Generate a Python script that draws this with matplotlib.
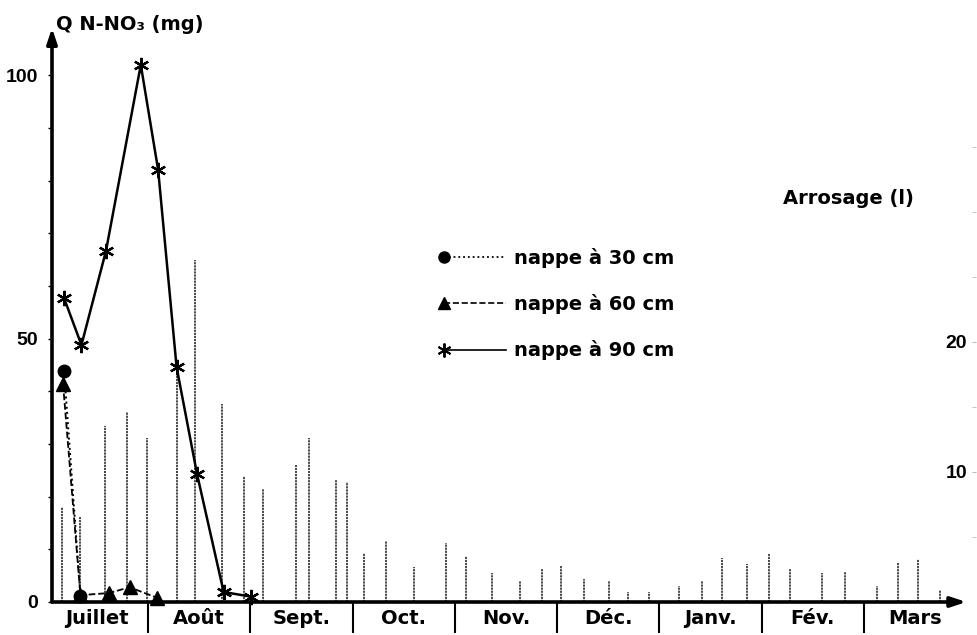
import matplotlib.pyplot as plt
from matplotlib.legend_handler import HandlerLine2D
from matplotlib.lines import Line2D

plt.rcParams['font.family'] = ['DejaVu Sans']
plt.rcParams['font.weight'] = 'bold'

months = ['Juillet', 'Août', 'Sept.', 'Oct.', 'Nov.', 'Déc.', 'Janv.', 'Fév.', 'Mars']

# x = months since 1st of July
x30 = [0.18, 0.34]
y30 = [43.9, 1.1]
x60 = [0.17, 0.34, 0.62, 0.82, 1.09]
y60 = [41.4, 1.3, 1.7, 2.8, 0.8]
x90 = [0.18, 0.35, 0.59, 0.93, 1.10, 1.28, 1.48, 1.74, 2.01]
y90 = [57.7, 48.8, 66.7, 102.0, 82.0, 44.6, 24.3, 1.9, 1.0]

# irrigation (litres)
x_arr = [0.16, 0.335, 0.58, 0.795, 0.99, 1.28, 1.46, 1.72, 1.94, 2.12, 2.45, 2.57,
         2.84, 2.95, 3.11, 3.33, 3.60, 3.91, 4.11, 4.36, 4.64, 4.85, 5.04, 5.26,
         5.51, 5.69, 5.90, 6.19, 6.42, 6.61, 6.86, 7.07, 7.28, 7.59, 7.81, 8.13,
         8.33, 8.53, 8.74]
h_arr = [7.3, 6.5, 13.5, 14.6, 12.6, 17.7, 26.3, 15.2, 9.7, 8.7, 10.5, 12.6,
         9.4, 9.2, 3.8, 4.7, 2.7, 4.5, 3.5, 2.2, 1.6, 2.5, 2.8, 1.8,
         1.6, 0.8, 0.8, 1.2, 1.6, 3.4, 2.9, 3.7, 2.5, 2.2, 2.3, 1.2,
         3.0, 3.3, 0.9]

num_font = ['Liberation Sans Narrow', 'Liberation Sans', 'DejaVu Sans']


class MarkerAtStart(HandlerLine2D):
    # put the legend marker at the left end of the sample line
    def create_artists(self, *args, **kwargs):
        artists = super().create_artists(*args, **kwargs)
        artists[0].set_markevery([0])
        return artists


fig = plt.figure(figsize=(9.77, 6.35), dpi=100)
ax = fig.add_axes([52 / 977, 33 / 635, (976 - 52) / 977, (602 - 28) / 635])
ax.set_xlim(0.062, 9.095)
ax.set_ylim(0, 109)

ax2 = ax.twinx()
ax2.set_ylim(0, 44.15)
ax.set_zorder(ax2.get_zorder() + 1)
ax.patch.set_visible(False)

for a in (ax, ax2):
    for s in a.spines.values():
        s.set_visible(False)

# irrigation bars
ax2.vlines(x_arr, 0, h_arr, colors='#3a3a3a', linestyles=(0, (1.2, 0.5)), lw=1.3)

# series
ax.plot(x30, y30, color='black', ls=':', lw=1.4, marker='o', ms=9, clip_on=False)
ax.plot(x60, y60, color='black', ls='--', lw=1.3, marker='^', ms=10, clip_on=False)
ax.plot(x90, y90, color='black', ls='-', lw=1.8, marker=(6, 2, 0), ms=11,
        mew=1.6, clip_on=False)

# axes arrows
arrow = dict(arrowstyle='-|>,head_length=0.9,head_width=0.3', lw=2.6, color='black',
             shrinkA=0, shrinkB=0)
ax.annotate('', xy=(0.062, 109), xytext=(0.062, 0), arrowprops=arrow, annotation_clip=False)
ax.annotate('', xy=(9.0, 0), xytext=(0.062, 0), arrowprops=arrow, annotation_clip=False)

# left ticks
yt = list(range(0, 101, 10))
ax.set_yticks(yt)
ax.set_yticklabels([str(v) if v % 50 == 0 else '' for v in yt], family=num_font)
ax.tick_params(axis='y', direction='out', length=3, width=1, pad=7, labelsize=14)

# month boundaries and labels
ax.set_xticks(range(1, 9))
ax.set_xticklabels([])
ax.tick_params(axis='x', which='major', direction='out', length=22, width=1.5)
ax.set_xticks([m + 0.5 for m in range(9)], minor=True)
ax.set_xticklabels(months, minor=True)
ax.tick_params(axis='x', which='minor', length=0, pad=5, labelsize=14)

# right axis
ax2.set_yticks([10, 20])
ax2.set_yticklabels(['10', '20'], family=num_font)
ax2.set_yticks([5, 15, 25, 30, 35], minor=True)
ax2.tick_params(axis='y', which='both', direction='in', length=3, color='#bbbbbb',
                pad=-22, labelsize=14)

fig.text(56 / 977, 1 - 25 / 635, 'Q N-NO₃ (mg)', ha='left', va='center', fontsize=14)
fig.text(848 / 977, 1 - 198 / 635, 'Arrosage (l)', ha='center', va='center', fontsize=14)

handles = [
    Line2D([], [], color='black', ls=':', lw=1.3, marker='o', ms=8),
    Line2D([], [], color='black', ls='--', lw=1.2, marker='^', ms=9),
    Line2D([], [], color='black', ls='-', lw=1.2, marker=(6, 2, 0), ms=10, mew=1.4),
]
labels = ['nappe à 30 cm', 'nappe à 60 cm', 'nappe à 90 cm']
ax.legend(handles, labels, loc='upper left', bbox_to_anchor=(444 / 977, 1 - 248 / 635),
          bbox_transform=fig.transFigure, frameon=False, borderpad=0, borderaxespad=0,
          handlelength=3.2, handletextpad=0.4, labelspacing=1.35, fontsize=14,
          handler_map={Line2D: MarkerAtStart()})

fig.savefig('out.png', dpi=100)
